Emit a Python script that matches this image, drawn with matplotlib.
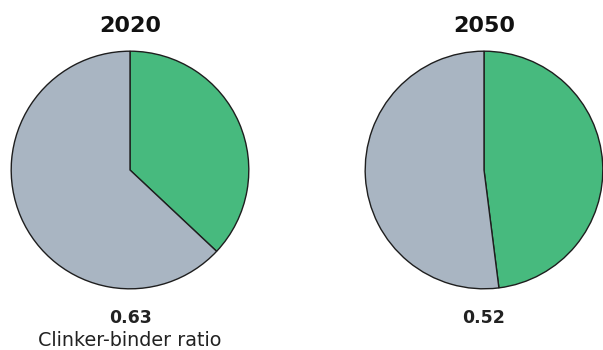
import matplotlib
matplotlib.use("Agg")
import matplotlib.pyplot as plt

years = ["2020", "2050"]
clinker_ratio = [0.63, 0.52]
value_labels = ["0.63", "0.52"]
caption = "Clinker-binder ratio"

green = "#47BA7E"
gray = "#A9B5C2"
edge = "#1e1e1e"

plt.rcParams["font.family"] = ["DejaVu Sans"]

W, H = 603, 350
fig = plt.figure(figsize=(W / 100, H / 100), dpi=100)

centers_x = [130, 484]
center_y = 170
radius = 120

for i, (yr, r) in enumerate(zip(years, clinker_ratio)):
    cx = centers_x[i]
    ax = fig.add_axes([(cx - radius) / W, (H - center_y - radius) / H,
                       2 * radius / W, 2 * radius / H])
    ax.pie([1 - r, r], colors=[green, gray], startangle=90, counterclock=False,
           radius=1.0,
           wedgeprops=dict(edgecolor=edge, linewidth=1.0))
    ax.set_xlim(-1.01, 1.01)
    ax.set_ylim(-1.01, 1.01)
    ax.set_aspect("equal")
    ax.axis("off")

    fig.text(cx / W, 1 - 32.5 / H, yr, ha="center", va="baseline",
             fontsize=16, fontweight="bold", color="#111111")
    fig.text(cx / W, 1 - 322.7 / H, value_labels[i], ha="center", va="baseline",
             fontsize=12.5, fontweight="bold", color="#222222")
    if i == 0:
        fig.text(cx / W, 1 - 345.7 / H, caption, ha="center", va="baseline",
                 fontsize=13.8, color="#222222")

fig.savefig("out.png", dpi=100, facecolor="white")
